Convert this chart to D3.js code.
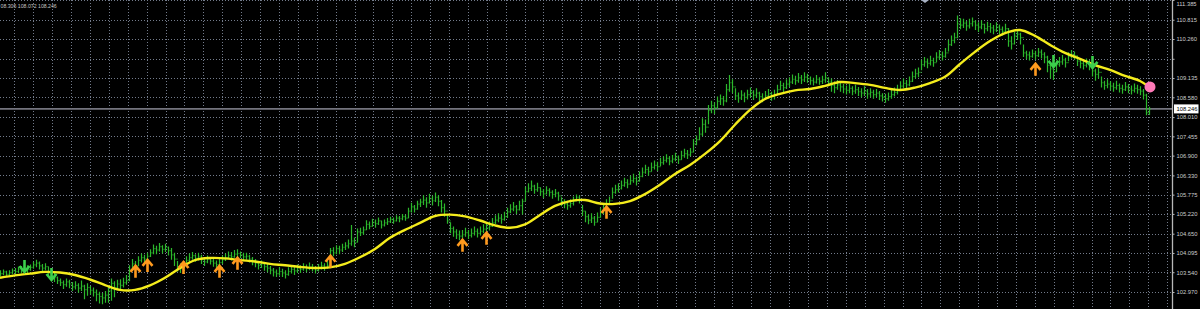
<!DOCTYPE html>
<html><head><meta charset="utf-8">
<script src="https://cdn.jsdelivr.net/npm/d3@7"></script>
<style>html,body{margin:0;padding:0;background:#000;overflow:hidden}svg{display:block}</style>
</head><body>
<script>
// ---------- data ----------
const priceTicks = [111.385,110.815,110.260,109.690,109.135,108.580,108.010,107.455,106.900,106.330,105.775,105.220,104.650,104.095,103.540,102.970];
const hiddenTickLabels = [109.690];

const barHigh = [
103.60,103.62,103.58,103.60,103.65,103.66,103.70,103.72,103.78,103.74,
103.76,103.84,103.90,103.85,103.78,103.80,103.70,103.58,103.52,103.42,
103.36,103.30,103.36,103.32,103.26,103.28,103.22,103.30,103.18,103.22,
103.14,103.10,103.04,102.98,102.94,103.00,103.12,103.36,103.28,103.32,
103.34,103.38,103.46,103.74,103.92,103.86,104.00,104.08,104.04,104.10,
104.20,104.34,104.30,104.38,104.32,104.36,104.28,104.24,104.10,103.86,
103.80,103.82,104.00,104.08,104.12,104.06,104.10,104.04,103.96,104.02,
103.98,103.92,103.88,103.94,104.02,104.08,104.14,104.12,104.18,104.20,
104.14,104.10,104.10,104.04,103.98,103.92,103.86,103.88,103.82,103.78,
103.72,103.66,103.62,103.68,103.64,103.60,103.68,103.74,103.70,103.76,
103.74,103.80,103.76,103.82,103.78,103.72,103.78,103.84,103.80,103.86,
104.24,104.26,104.32,104.30,104.36,104.40,104.48,104.90,104.54,104.80,
104.82,104.86,105.04,105.00,105.08,105.06,105.12,105.02,105.06,105.10,
105.14,105.12,105.18,105.16,105.22,105.20,105.40,105.54,105.48,105.60,
105.66,105.76,105.70,105.80,105.74,105.84,105.76,105.62,105.52,105.20,
104.98,104.86,104.78,104.74,104.76,104.82,104.76,104.80,104.86,104.80,
104.86,104.92,104.96,105.00,105.10,105.18,105.24,105.20,105.28,105.40,
105.50,105.56,105.48,105.60,105.66,106.00,106.10,106.18,106.06,106.12,
105.98,105.94,106.02,105.96,105.90,105.94,105.86,105.70,105.64,105.60,
105.64,105.72,105.78,105.76,105.48,105.30,105.20,105.24,105.16,105.26,
105.40,105.50,105.64,105.72,105.98,106.06,106.10,106.18,106.26,106.22,
106.32,106.38,106.30,106.44,106.56,106.64,106.58,106.70,106.76,106.72,
106.84,106.88,106.94,106.88,106.92,106.98,106.90,107.04,107.10,107.06,
107.12,107.38,107.48,107.72,107.98,107.94,108.36,108.48,108.44,108.60,
108.66,108.62,108.96,109.22,109.10,108.84,108.72,108.78,108.72,108.80,
108.86,108.78,108.84,108.74,108.70,108.76,108.82,108.74,108.80,108.94,
109.06,109.00,109.10,109.16,109.24,109.20,109.28,109.22,109.30,109.26,
109.18,109.14,109.22,109.16,109.20,109.30,109.16,109.12,109.04,109.08,
109.02,108.96,108.92,108.96,108.90,108.94,108.88,108.84,108.90,108.82,
108.84,108.80,108.82,108.76,108.70,108.68,108.72,108.80,108.86,108.94,
109.04,109.12,109.08,109.18,109.32,109.40,109.44,109.66,109.74,109.70,
109.78,109.72,109.88,109.94,109.90,110.00,110.24,110.36,110.44,110.94,
110.86,110.84,110.78,110.84,110.88,110.80,110.74,110.80,110.70,110.76,
110.72,110.66,110.74,110.68,110.62,110.70,110.58,110.34,110.46,110.54,
110.44,110.10,109.92,109.90,109.96,109.92,110.00,109.96,109.88,109.78,
109.56,109.50,109.64,109.74,109.80,109.72,109.88,109.94,109.90,109.76,
109.68,109.64,109.70,109.66,109.56,109.40,109.44,109.18,109.06,109.10,
109.04,109.00,109.06,108.98,108.94,109.02,108.96,108.92,108.98,108.94,
108.90,108.82,108.68,108.306];

const barLow = [
103.42,103.45,103.40,103.44,103.48,103.47,103.52,103.50,103.55,103.52,
103.58,103.64,103.68,103.62,103.56,103.60,103.42,103.34,103.26,103.20,
103.14,103.06,103.12,103.08,103.00,103.04,102.95,103.00,102.76,102.86,
102.90,102.84,102.70,102.64,102.62,102.66,102.66,102.72,102.82,103.04,
103.06,103.10,103.18,103.28,103.58,103.60,103.72,103.82,103.80,103.86,
103.98,104.06,104.06,104.14,104.08,104.12,104.02,103.90,103.72,103.56,
103.52,103.58,103.68,103.82,103.90,103.84,103.88,103.78,103.72,103.80,
103.76,103.70,103.66,103.70,103.78,103.86,103.92,103.88,103.96,103.98,
103.94,103.88,103.90,103.82,103.74,103.68,103.62,103.66,103.58,103.54,
103.48,103.42,103.40,103.44,103.40,103.36,103.44,103.50,103.46,103.52,
103.52,103.58,103.54,103.60,103.56,103.50,103.56,103.62,103.58,103.64,
103.86,104.00,104.06,104.06,104.12,104.18,104.22,104.30,104.26,104.40,
104.58,104.62,104.76,104.78,104.86,104.82,104.90,104.80,104.86,104.90,
104.96,104.94,105.00,104.98,105.04,105.02,105.10,105.26,105.26,105.34,
105.42,105.48,105.40,105.52,105.46,105.56,105.44,105.26,105.14,104.94,
104.66,104.56,104.50,104.46,104.52,104.56,104.50,104.54,104.60,104.54,
104.60,104.66,104.72,104.74,104.84,104.92,104.98,104.94,105.02,105.10,
105.24,105.30,105.22,105.32,105.20,105.60,105.84,105.88,105.80,105.86,
105.74,105.68,105.78,105.72,105.66,105.70,105.60,105.44,105.38,105.34,
105.40,105.46,105.60,105.52,105.16,104.98,104.92,104.96,104.88,104.98,
105.12,105.22,105.42,105.48,105.66,105.80,105.84,105.92,106.00,105.96,
106.06,106.12,106.04,106.16,106.28,106.38,106.32,106.44,106.50,106.46,
106.60,106.64,106.70,106.62,106.68,106.74,106.66,106.78,106.84,106.80,
106.88,107.00,107.20,107.34,107.46,107.56,107.80,108.12,108.10,108.24,
108.36,108.34,108.44,108.74,108.70,108.50,108.42,108.50,108.44,108.52,
108.58,108.50,108.56,108.46,108.44,108.50,108.54,108.48,108.52,108.64,
108.78,108.72,108.82,108.88,108.96,108.94,109.00,108.96,109.02,109.00,
108.94,108.92,108.98,108.94,108.96,109.00,108.90,108.74,108.70,108.80,
108.74,108.70,108.66,108.70,108.64,108.68,108.62,108.58,108.62,108.54,
108.58,108.54,108.58,108.50,108.46,108.42,108.48,108.54,108.60,108.66,
108.78,108.84,108.82,108.90,109.02,109.12,109.16,109.36,109.46,109.42,
109.50,109.46,109.60,109.66,109.64,109.72,109.90,110.06,110.14,110.28,
110.54,110.58,110.50,110.56,110.62,110.52,110.46,110.54,110.42,110.48,
110.44,110.40,110.46,110.40,110.36,110.42,110.04,109.96,110.10,110.24,
110.10,109.74,109.68,109.64,109.72,109.66,109.74,109.70,109.56,109.30,
109.12,109.08,109.30,109.46,109.52,109.44,109.62,109.70,109.66,109.48,
109.42,109.38,109.44,109.36,109.18,109.06,109.12,108.86,108.80,108.84,
108.78,108.74,108.80,108.72,108.68,108.76,108.70,108.66,108.72,108.68,
108.64,108.52,108.06,108.072];

const barClose = [
103.50,103.55,103.48,103.53,103.58,103.56,103.63,103.60,103.66,103.62,
103.68,103.75,103.80,103.72,103.66,103.70,103.52,103.44,103.38,103.30,
103.24,103.18,103.26,103.20,103.12,103.16,103.08,103.14,103.04,103.10,
103.02,102.96,102.90,102.84,102.80,102.88,103.00,103.22,103.10,103.20,
103.16,103.24,103.30,103.62,103.78,103.72,103.88,103.96,103.92,104.00,
104.10,104.22,104.18,104.28,104.20,104.26,104.16,104.04,103.92,103.70,
103.64,103.72,103.88,103.96,104.02,103.94,104.00,103.90,103.84,103.92,
103.86,103.80,103.76,103.82,103.90,103.96,104.02,103.98,104.06,104.08,
104.04,103.98,104.00,103.92,103.86,103.80,103.74,103.78,103.70,103.66,
103.60,103.54,103.50,103.56,103.52,103.48,103.56,103.62,103.58,103.64,
103.62,103.68,103.64,103.70,103.66,103.60,103.66,103.72,103.68,103.74,
104.16,104.10,104.22,104.18,104.26,104.30,104.36,104.44,104.40,104.70,
104.68,104.76,104.92,104.86,104.98,104.94,105.02,104.90,104.96,105.00,
105.06,105.02,105.10,105.08,105.14,105.10,105.30,105.42,105.36,105.50,
105.56,105.62,105.54,105.66,105.60,105.70,105.58,105.40,105.30,105.02,
104.80,104.70,104.62,104.58,104.62,104.68,104.60,104.66,104.72,104.66,
104.72,104.78,104.82,104.86,104.96,105.04,105.10,105.06,105.14,105.28,
105.36,105.42,105.34,105.46,105.58,105.86,105.96,106.02,105.92,105.98,
105.86,105.80,105.90,105.84,105.78,105.82,105.74,105.56,105.50,105.46,
105.52,105.58,105.70,105.64,105.30,105.14,105.04,105.10,104.98,105.12,
105.26,105.38,105.52,105.60,105.84,105.92,105.96,106.04,106.12,106.08,
106.18,106.24,106.16,106.30,106.42,106.50,106.44,106.56,106.62,106.58,
106.70,106.76,106.82,106.74,106.80,106.86,106.78,106.90,106.96,106.92,
107.00,107.24,107.36,107.52,107.80,107.72,108.20,108.34,108.28,108.46,
108.54,108.48,108.80,109.00,108.88,108.62,108.56,108.64,108.58,108.66,
108.72,108.64,108.70,108.60,108.56,108.62,108.68,108.60,108.66,108.80,
108.92,108.86,108.96,109.02,109.10,109.06,109.14,109.08,109.16,109.12,
109.06,109.02,109.10,109.04,109.08,109.14,109.02,108.92,108.86,108.94,
108.88,108.82,108.78,108.84,108.76,108.80,108.74,108.70,108.76,108.68,
108.72,108.66,108.70,108.62,108.58,108.54,108.60,108.66,108.72,108.80,
108.90,108.98,108.94,109.04,109.18,109.26,109.30,109.52,109.60,109.56,
109.64,109.58,109.74,109.80,109.76,109.86,110.10,110.22,110.30,110.70,
110.66,110.72,110.64,110.70,110.76,110.66,110.60,110.68,110.56,110.62,
110.58,110.52,110.60,110.54,110.48,110.56,110.20,110.12,110.34,110.40,
110.30,109.86,109.80,109.76,109.84,109.78,109.88,109.82,109.74,109.50,
109.40,109.32,109.52,109.60,109.66,109.58,109.76,109.82,109.78,109.62,
109.56,109.50,109.58,109.52,109.34,109.24,109.30,109.00,108.92,108.96,
108.90,108.86,108.92,108.84,108.80,108.88,108.82,108.78,108.84,108.80,
108.76,108.64,108.14,108.246];

// moving average, one value every 5 bars (last value on the last bar)
const maValues = [
103.38,103.45,103.50,103.55,103.53,103.46,103.33,103.17,103.03,103.03,
103.16,103.38,103.66,103.89,103.95,103.94,103.89,103.85,103.78,103.74,
103.69,103.66,103.68,103.78,103.97,104.21,104.53,104.76,104.96,105.16,
105.20,105.15,105.03,104.89,104.82,104.92,105.19,105.45,105.59,105.62,
105.52,105.51,105.59,105.79,106.06,106.37,106.63,106.95,107.32,107.79,
108.22,108.53,108.68,108.78,108.82,108.91,109.02,108.99,108.94,108.85,
108.79,108.86,108.99,109.17,109.54,109.89,110.20,110.43,110.52,110.35,
110.09,109.86,109.69,109.51,109.37,109.20,109.05,108.88];
const maStep = 5;

const upArrowBars   = [45,49,61,73,79,110,154,162,202,345];
const upArrowPrices = [103.58,103.75,103.69,103.58,103.81,103.87,104.33,104.53,105.28,109.40];
const downArrowBars   = [8,17,351,364];
const downArrowPrices = [103.69,103.46,109.60,109.57];

const lastPrice = 108.246;
const headerText = "08.306 108.072 108.246";

// ---------- layout ----------
const W = 1200, H = 309, axisX = 1172.5;
const N = barClose.length;
const svg = d3.select("body").append("svg").attr("width", W).attr("height", H)
  .style("background", "#000");
svg.append("rect").attr("width", W).attr("height", H).attr("fill", "#000");

const y = d3.scaleLinear().domain([102.970, 110.260]).range([292, 39]);
const x = d3.scaleLinear().domain([0, N - 1]).range([0, 1149]);
const px = i => Math.round(x(i)) + 0.5;

// grid
const grid = svg.append("g").attr("stroke", "#737b8b").attr("stroke-width", 1)
  .attr("stroke-dasharray", "1,2").attr("shape-rendering", "crispEdges");
grid.selectAll("line.h").data(priceTicks).join("line").attr("class", "h")
  .attr("x1", 0).attr("x2", axisX - 1)
  .attr("y1", d => Math.round(y(d)) + 0.5).attr("y2", d => Math.round(y(d)) + 0.5);
const gridXs = d3.range(14.3, axisX - 3, 18.9);
grid.selectAll("line.v").data(gridXs).join("line").attr("class", "v")
  .attr("x1", d => Math.round(d) + 0.5).attr("x2", d => Math.round(d) + 0.5)
  .attr("y1", 0).attr("y2", H);

// current price line
svg.append("line").attr("x1", 0).attr("x2", axisX).attr("y1", y(lastPrice)).attr("y2", y(lastPrice))
  .attr("stroke", "#74747e").attr("stroke-width", 1.6);

// bars
svg.append("g").selectAll("path").data(barClose).join("path")
  .attr("fill", "none").attr("stroke", "#2cb82c").attr("stroke-width", 1.2)
  .attr("d", (c, i) => {
    const xi = px(i);
    const o = i > 0 ? barClose[i - 1] : c;
    return `M${xi},${y(barHigh[i])}V${y(barLow[i])}M${xi - 1},${y(o)}H${xi}M${xi},${y(c)}H${xi + 1}`;
  });

// moving average
const maLine = d3.line()
  .x((v, k) => x(Math.min(k * maStep, N - 1)))
  .y(v => y(v))
  .curve(d3.curveCatmullRom.alpha(0.5));
svg.append("path").datum(maValues).attr("d", maLine)
  .attr("fill", "none").attr("stroke", "#f4ec1c").attr("stroke-width", 2.4)
  .attr("stroke-linejoin", "round");

// arrows
const upG = svg.append("g");
upArrowBars.forEach((b, k) => {
  upG.append("path")
    .attr("transform", `translate(${px(b)},${y(upArrowPrices[k])})`)
    .attr("d", "M0,7V-4M-5,1L0,-5L5,1")
    .attr("fill", "none").attr("stroke", "#ff9a1e").attr("stroke-width", 2.6);
});
const dnG = svg.append("g");
downArrowBars.forEach((b, k) => {
  dnG.append("path")
    .attr("transform", `translate(${px(b)},${y(downArrowPrices[k])})`)
    .attr("d", "M0,-7V4M-5,-1L0,5L5,-1")
    .attr("fill", "none").attr("stroke", "#3ccf4c").attr("stroke-width", 2.6);
});

// end-of-MA dot
svg.append("circle").attr("cx", x(N - 1) + 1).attr("cy", y(maValues[maValues.length - 1]))
  .attr("r", 5.5).attr("fill", "#ff7ab8");

// small marker at top
svg.append("path").attr("d", "M921,0L929,0L925,3Z").attr("fill", "#a8b2c4");

// right axis
svg.append("line").attr("x1", axisX).attr("x2", axisX).attr("y1", 0).attr("y2", H)
  .attr("stroke", "#b8b8b8").attr("stroke-width", 1.3);
const axis = d3.axisRight(y).tickValues(priceTicks).tickSize(2).tickSizeOuter(0).tickPadding(2)
  .tickFormat(d => hiddenTickLabels.includes(d) ? "" : d3.format(".3f")(d));
const ag = svg.append("g").attr("transform", `translate(${axisX},0)`).call(axis);
ag.select(".domain").remove();
ag.selectAll(".tick line").attr("stroke", "#b8b8b8");
ag.selectAll(".tick text").attr("fill", "#cccccc")
  .style("font-family", "'Liberation Sans', Arial, sans-serif").style("font-size", "5.8px")
  .attr("dy", d => y(d) < 3 ? "0.9em" : "0.32em");

// last price label
const ly = y(lastPrice);
svg.append("rect").attr("x", axisX + 1.5).attr("y", ly - 4.5).attr("width", 24.5).attr("height", 9)
  .attr("fill", "#ffffff");
svg.append("text").attr("x", axisX + 4).attr("y", ly + 2).text(d3.format(".3f")(lastPrice))
  .attr("fill", "#000").style("font-family", "'Liberation Sans', Arial, sans-serif").style("font-size", "5.8px");

// header text
svg.append("text").attr("x", 0.5).attr("y", 7.5).text(headerText)
  .attr("fill", "#c4c4c4").style("font-family", "'Liberation Sans', Arial, sans-serif").style("font-size", "5.2px");
</script>
</body></html>
